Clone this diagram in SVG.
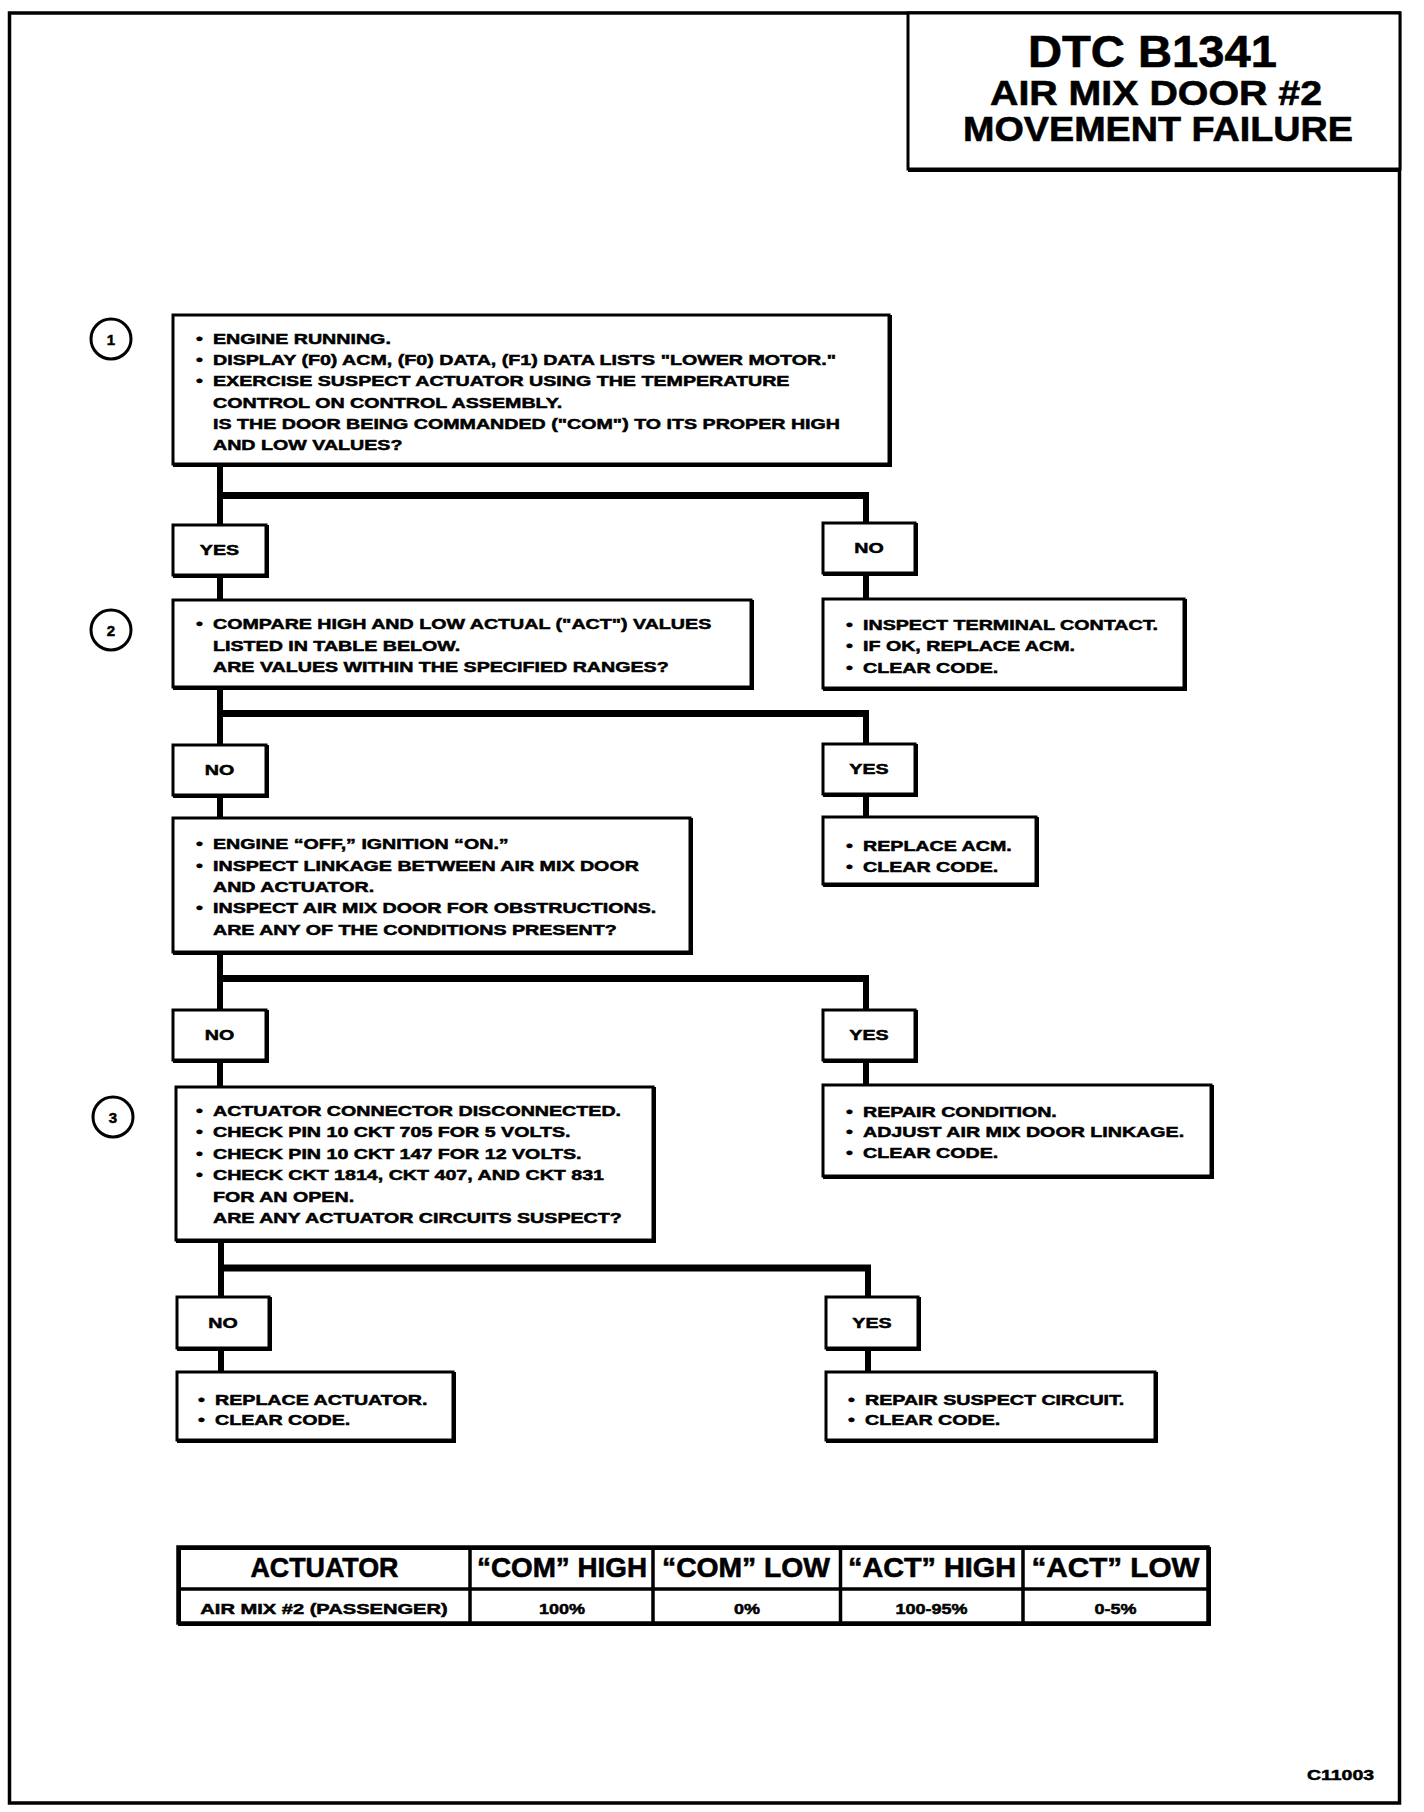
<svg xmlns="http://www.w3.org/2000/svg" width="1424" height="1812" viewBox="0 0 1424 1812">
<style>
.bx{fill:#fff;stroke:#000;stroke-width:3}
.sh{fill:none;stroke:#000;stroke-width:3}
.cn{fill:none;stroke:#000;stroke-width:6}
.bar{fill:none;stroke:#000;stroke-width:7}
.t{font-family:"Liberation Sans",Arial,sans-serif;font-weight:bold;font-size:15px;fill:#000;stroke:#000;stroke-width:0.5}
.c{text-anchor:middle}
.ttl{font-family:"Liberation Sans",Arial,sans-serif;font-weight:bold;fill:#000;stroke:#000;stroke-width:0.6}
.circ{fill:#fff;stroke:#000;stroke-width:3}
.tb{fill:none;stroke:#000;stroke-width:3.5}
</style>
<rect x="9.5" y="13" width="1390" height="1790" fill="#fff" stroke="#000" stroke-width="3.5"/>

<g id="title">
<rect class="sh" x="909.5" y="14.5" width="490" height="156"/>
<rect class="bx" x="908" y="13" width="492" height="156"/>
<text class="ttl" x="1028" y="67" font-size="44" textLength="249" lengthAdjust="spacingAndGlyphs">DTC B1341</text>
<text class="ttl" x="990" y="105" font-size="35" textLength="332" lengthAdjust="spacingAndGlyphs">AIR MIX DOOR #2</text>
<text class="ttl" x="963" y="141" font-size="35" textLength="390" lengthAdjust="spacingAndGlyphs">MOVEMENT FAILURE</text>
</g>

<g id="connectors">
<path class="cn" d="M220 464V525M220 575V600M220 687V745M220 795V818M220 952V1010M220 1060V1087M221 1241V1297M221 1348V1372"/>
<path class="cn" d="M866 495V523M866 573V599M866 713V744M866 794V817M866 978V1010M866 1060V1085M868 1268V1297M868 1348V1372"/>
<path class="bar" d="M217 495.5H869M217 713.5H869M217 978.5H869M218 1268H871"/>
</g>

<g id="step1">
<circle class="circ" cx="111" cy="339" r="20"/>
<text class="t c" x="111" y="345" font-size="16">1</text>
</g>
<g id="step2">
<circle class="circ" cx="111" cy="630" r="20"/>
<text class="t c" x="111" y="636" font-size="16">2</text>
</g>
<g id="step3">
<circle class="circ" cx="113" cy="1117" r="20"/>
<text class="t c" x="113" y="1123" font-size="16">3</text>
</g>

<g id="n1">
<rect class="sh" x="174.5" y="316.5" width="716" height="149"/>
<rect class="bx" x="173" y="315" width="716" height="149"/>
<g class="t" transform="matrix(1.31 0 0 1 213 0)">
<text x="-13" y="344">&#8226;</text><text x="0" y="344">ENGINE RUNNING.</text>
<text x="-13" y="365.2">&#8226;</text><text x="0" y="365.2">DISPLAY (F0) ACM, (F0) DATA, (F1) DATA LISTS "LOWER MOTOR."</text>
<text x="-13" y="386.4">&#8226;</text><text x="0" y="386.4">EXERCISE SUSPECT ACTUATOR USING THE TEMPERATURE</text>
<text x="0" y="407.6">CONTROL ON CONTROL ASSEMBLY.</text>
<text x="0" y="428.8">IS THE DOOR BEING COMMANDED ("COM") TO ITS PROPER HIGH</text>
<text x="0" y="450">AND LOW VALUES?</text>
</g>
</g>

<g id="yes1">
<rect class="sh" x="174.5" y="526.5" width="93" height="50"/>
<rect class="bx" x="173" y="525" width="93" height="50"/>
<text class="t c" transform="matrix(1.31 0 0 1 219.5 0)" x="0" y="555.5">YES</text>
</g>
<g id="no1">
<rect class="sh" x="824.5" y="524.5" width="92" height="50"/>
<rect class="bx" x="823" y="523" width="92" height="50"/>
<text class="t c" transform="matrix(1.31 0 0 1 869 0)" x="0" y="553.5">NO</text>
</g>

<g id="n2">
<rect class="sh" x="174.5" y="601.5" width="578" height="87"/>
<rect class="bx" x="173" y="600" width="578" height="87"/>
<g class="t" transform="matrix(1.31 0 0 1 213 0)">
<text x="-13" y="629.5">&#8226;</text><text x="0" y="629.5">COMPARE HIGH AND LOW ACTUAL ("ACT") VALUES</text>
<text x="0" y="651">LISTED IN TABLE BELOW.</text>
<text x="0" y="672.5">ARE VALUES WITHIN THE SPECIFIED RANGES?</text>
</g>
</g>

<g id="r1">
<rect class="sh" x="824.5" y="600.5" width="361" height="89"/>
<rect class="bx" x="823" y="599" width="361" height="89"/>
<g class="t" transform="matrix(1.31 0 0 1 863 0)">
<text x="-13" y="630">&#8226;</text><text x="0" y="630">INSPECT TERMINAL CONTACT.</text>
<text x="-13" y="651.5">&#8226;</text><text x="0" y="651.5">IF OK, REPLACE ACM.</text>
<text x="-13" y="673">&#8226;</text><text x="0" y="673">CLEAR CODE.</text>
</g>
</g>

<g id="no2">
<rect class="sh" x="174.5" y="746.5" width="93" height="50"/>
<rect class="bx" x="173" y="745" width="93" height="50"/>
<text class="t c" transform="matrix(1.31 0 0 1 219.5 0)" x="0" y="775.5">NO</text>
</g>
<g id="yes2">
<rect class="sh" x="824.5" y="745.5" width="92" height="50"/>
<rect class="bx" x="823" y="744" width="92" height="50"/>
<text class="t c" transform="matrix(1.31 0 0 1 869 0)" x="0" y="774.5">YES</text>
</g>

<g id="n3">
<rect class="sh" x="174.5" y="819.5" width="517" height="134"/>
<rect class="bx" x="173" y="818" width="517" height="134"/>
<g class="t" transform="matrix(1.31 0 0 1 213 0)">
<text x="-13" y="849.5">&#8226;</text><text x="0" y="849.5">ENGINE &#8220;OFF,&#8221; IGNITION &#8220;ON.&#8221;</text>
<text x="-13" y="870.8">&#8226;</text><text x="0" y="870.8">INSPECT LINKAGE BETWEEN AIR MIX DOOR</text>
<text x="0" y="892.1">AND ACTUATOR.</text>
<text x="-13" y="913.4">&#8226;</text><text x="0" y="913.4">INSPECT AIR MIX DOOR FOR OBSTRUCTIONS.</text>
<text x="0" y="934.7">ARE ANY OF THE CONDITIONS PRESENT?</text>
</g>
</g>

<g id="r2">
<rect class="sh" x="824.5" y="818.5" width="213" height="67"/>
<rect class="bx" x="823" y="817" width="213" height="67"/>
<g class="t" transform="matrix(1.31 0 0 1 863 0)">
<text x="-13" y="851">&#8226;</text><text x="0" y="851">REPLACE ACM.</text>
<text x="-13" y="872">&#8226;</text><text x="0" y="872">CLEAR CODE.</text>
</g>
</g>

<g id="no3">
<rect class="sh" x="174.5" y="1011.5" width="93" height="50"/>
<rect class="bx" x="173" y="1010" width="93" height="50"/>
<text class="t c" transform="matrix(1.31 0 0 1 219.5 0)" x="0" y="1040.5">NO</text>
</g>
<g id="yes3">
<rect class="sh" x="824.5" y="1011.5" width="92" height="50"/>
<rect class="bx" x="823" y="1010" width="92" height="50"/>
<text class="t c" transform="matrix(1.31 0 0 1 869 0)" x="0" y="1040.5">YES</text>
</g>

<g id="n4">
<rect class="sh" x="177.5" y="1088.5" width="477" height="153"/>
<rect class="bx" x="176" y="1087" width="477" height="153"/>
<g class="t" transform="matrix(1.31 0 0 1 213 0)">
<text x="-13" y="1116">&#8226;</text><text x="0" y="1116">ACTUATOR CONNECTOR DISCONNECTED.</text>
<text x="-13" y="1137.5">&#8226;</text><text x="0" y="1137.5">CHECK PIN 10 CKT 705 FOR 5 VOLTS.</text>
<text x="-13" y="1159">&#8226;</text><text x="0" y="1159">CHECK PIN 10 CKT 147 FOR 12 VOLTS.</text>
<text x="-13" y="1180.5">&#8226;</text><text x="0" y="1180.5">CHECK CKT 1814, CKT 407, AND CKT 831</text>
<text x="0" y="1202">FOR AN OPEN.</text>
<text x="0" y="1223.5">ARE ANY ACTUATOR CIRCUITS SUSPECT?</text>
</g>
</g>

<g id="r3">
<rect class="sh" x="824.5" y="1086.5" width="388" height="91"/>
<rect class="bx" x="823" y="1085" width="388" height="91"/>
<g class="t" transform="matrix(1.31 0 0 1 863 0)">
<text x="-13" y="1117">&#8226;</text><text x="0" y="1117">REPAIR CONDITION.</text>
<text x="-13" y="1137.5">&#8226;</text><text x="0" y="1137.5">ADJUST AIR MIX DOOR LINKAGE.</text>
<text x="-13" y="1158">&#8226;</text><text x="0" y="1158">CLEAR CODE.</text>
</g>
</g>

<g id="no4">
<rect class="sh" x="178.5" y="1298.5" width="92" height="51"/>
<rect class="bx" x="177" y="1297" width="92" height="51"/>
<text class="t c" transform="matrix(1.31 0 0 1 223 0)" x="0" y="1328">NO</text>
</g>
<g id="yes4">
<rect class="sh" x="827.5" y="1298.5" width="92" height="51"/>
<rect class="bx" x="826" y="1297" width="92" height="51"/>
<text class="t c" transform="matrix(1.31 0 0 1 872 0)" x="0" y="1328">YES</text>
</g>

<g id="r4">
<rect class="sh" x="178.5" y="1373.5" width="276" height="68"/>
<rect class="bx" x="177" y="1372" width="276" height="68"/>
<g class="t" transform="matrix(1.31 0 0 1 215 0)">
<text x="-13" y="1405">&#8226;</text><text x="0" y="1405">REPLACE ACTUATOR.</text>
<text x="-13" y="1425.5">&#8226;</text><text x="0" y="1425.5">CLEAR CODE.</text>
</g>
</g>

<g id="r5">
<rect class="sh" x="827.5" y="1373.5" width="329" height="68"/>
<rect class="bx" x="826" y="1372" width="329" height="68"/>
<g class="t" transform="matrix(1.31 0 0 1 865 0)">
<text x="-13" y="1405">&#8226;</text><text x="0" y="1405">REPAIR SUSPECT CIRCUIT.</text>
<text x="-13" y="1425.5">&#8226;</text><text x="0" y="1425.5">CLEAR CODE.</text>
</g>
</g>

<g id="table">
<rect x="179.5" y="1548.5" width="1030" height="76" fill="none" stroke="#000" stroke-width="3"/>
<rect class="tb" x="178" y="1547" width="1030" height="76"/>
<path class="tb" d="M178 1589H1208M470 1547V1623M653 1547V1623M840.5 1547V1623M1023 1547V1623"/>
<g class="ttl" font-size="28">
<text x="250.5" y="1577" textLength="148" lengthAdjust="spacingAndGlyphs">ACTUATOR</text>
<text x="477" y="1577" textLength="170" lengthAdjust="spacingAndGlyphs">&#8220;COM&#8221; HIGH</text>
<text x="662" y="1577" textLength="168" lengthAdjust="spacingAndGlyphs">&#8220;COM&#8221; LOW</text>
<text x="848" y="1577" textLength="168" lengthAdjust="spacingAndGlyphs">&#8220;ACT&#8221; HIGH</text>
<text x="1031.5" y="1577" textLength="168" lengthAdjust="spacingAndGlyphs">&#8220;ACT&#8221; LOW</text>
</g>
<g class="t c" font-size="15.5">
<text transform="matrix(1.34 0 0 1 324 0)" x="0" y="1614">AIR MIX #2 (PASSENGER)</text>
<text transform="matrix(1.2 0 0 1 562 0)" x="0" y="1614">100%</text>
<text transform="matrix(1.2 0 0 1 747 0)" x="0" y="1614">0%</text>
<text transform="matrix(1.2 0 0 1 931.5 0)" x="0" y="1614">100-95%</text>
<text transform="matrix(1.2 0 0 1 1115.5 0)" x="0" y="1614">0-5%</text>
</g>
</g>

<text class="t" x="1307" y="1780" font-size="16" textLength="67" lengthAdjust="spacingAndGlyphs">C11003</text>
</svg>
